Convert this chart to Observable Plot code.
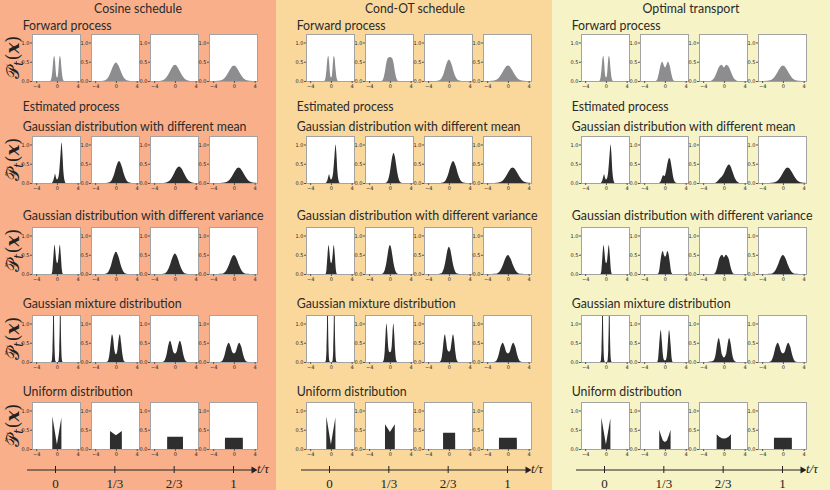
<!DOCTYPE html>
<html><head><meta charset="utf-8">
<script src="https://cdn.jsdelivr.net/npm/d3@7"></script>
<script src="https://cdn.jsdelivr.net/npm/@observablehq/plot@0.6"></script>
<style>
html,body{margin:0;padding:0;background:#fff;}
#fig{position:relative;width:830px;height:490px;overflow:hidden;}
#fig svg{position:absolute;overflow:visible;}
</style></head><body><div id="fig"></div>
<script>
// ---------------- data ----------------
const schedules = ["Cosine schedule", "Cond-OT schedule", "Optimal transport"];
const forwardTitle = "Forward process";
const estimatedTitle = "Estimated process";
const rowTitles = ["Gaussian distribution with different mean", "Gaussian distribution with different variance", "Gaussian mixture distribution", "Uniform distribution"];
const times = [0, 1/3, 2/3, 1];
const timeLabels = ["0", "1/3", "2/3", "1"];
const densityTicks = [0, 0.5, 1.0];
const xTicks = [-4, 0, 4];

// each curve: [x, density] knots
const cosForward = [
  [[-1.3,0],[-1.05,0.08],[-0.85,0.3],[-0.65,0.6],[-0.5,0.65],[-0.35,0.5],[-0.2,0.22],[-0.05,0.1],[0.1,0.1],[0.25,0.22],[0.4,0.5],[0.55,0.65],[0.7,0.6],[0.9,0.3],[1.1,0.08],[1.35,0]],
  [[-3,0],[-2.5,0.005],[-2,0.026],[-1.5,0.094],[-1,0.232],[-0.5,0.4],[0,0.48],[0.5,0.4],[1,0.232],[1.5,0.094],[2,0.026],[2.5,0.005],[3,0]],
  [[-3.5,0],[-3,0.003],[-2.5,0.013],[-2,0.046],[-1.5,0.121],[-1,0.242],[-0.5,0.366],[0,0.42],[0.5,0.366],[1,0.242],[1.5,0.121],[2,0.046],[2.5,0.013],[3,0.003],[3.5,0]],
  [[-4,0],[-3.5,0.001],[-3,0.004],[-2.5,0.018],[-2,0.054],[-1.5,0.13],[-1,0.243],[-0.5,0.353],[0,0.4],[0.5,0.353],[1,0.243],[1.5,0.13],[2,0.054],[2.5,0.018],[3,0.004],[3.5,0.001],[4,0]]
];
const cosMean = [
  [[-1,0],[-0.75,0.05],[-0.5,0.17],[-0.35,0.24],[-0.2,0.15],[0,0.09],[0.2,0.12],[0.45,0.3],[0.7,0.75],[0.9,1.05],[1.05,0.8],[1.25,0.3],[1.45,0.08],[1.7,0]],
  [[-1.9,0],[-1.4,0.01],[-0.9,0.057],[-0.4,0.205],[0.1,0.442],[0.6,0.57],[1.1,0.442],[1.6,0.205],[2.1,0.057],[2.6,0.01],[3.1,0]],
  [[-2.7,0],[-2.2,0.002],[-1.7,0.012],[-1.2,0.043],[-0.7,0.117],[-0.2,0.241],[0.3,0.372],[0.8,0.43],[1.3,0.372],[1.8,0.241],[2.3,0.117],[2.8,0.043],[3.3,0.012],[3.8,0.002],[4.3,0]],
  [[-3.1,0],[-2.6,0.001],[-2.1,0.004],[-1.6,0.018],[-1.1,0.054],[-0.6,0.13],[-0.1,0.243],[0.4,0.353],[0.9,0.4],[1.4,0.353],[1.9,0.243],[2.4,0.13],[2.9,0.054],[3.4,0.018],[3.9,0.004],[4.4,0.001]]
];
const cosVariance = [
  [[-1.05,0],[-0.85,0.12],[-0.65,0.5],[-0.45,0.76],[-0.3,0.6],[-0.12,0.35],[0.05,0.28],[0.22,0.35],[0.4,0.6],[0.55,0.76],[0.75,0.5],[0.95,0.12],[1.15,0]],
  [[-2.5,0],[-2,0.009],[-1.5,0.055],[-1,0.203],[-0.5,0.446],[0,0.58],[0.5,0.446],[1,0.203],[1.5,0.055],[2,0.009],[2.5,0]],
  [[-3,0],[-2.5,0.002],[-2,0.015],[-1.5,0.072],[-1,0.218],[-0.5,0.424],[0,0.53],[0.5,0.424],[1,0.218],[1.5,0.072],[2,0.015],[2.5,0.002],[3,0]],
  [[-3,0],[-2.5,0.004],[-2,0.021],[-1.5,0.084],[-1,0.224],[-0.5,0.403],[0,0.49],[0.5,0.403],[1,0.224],[1.5,0.084],[2,0.021],[2.5,0.004],[3,0]]
];
const cosMixture = [
  [[-1.15,0],[-1.05,0.01],[-0.95,0.07],[-0.85,0.34],[-0.75,1.03],[-0.65,2.5],[-0.55,1.03],[-0.45,0.34],[-0.35,0.07],[-0.25,0.01],[-0.15,0],[0.15,0],[0.25,0.01],[0.35,0.07],[0.45,0.34],[0.55,1.03],[0.65,2.5],[0.75,1.03],[0.85,0.34],[0.95,0.07],[1.05,0.01],[1.15,0]],
  [[-1.8,0],[-1.5,0.04],[-1.25,0.2],[-1,0.5],[-0.75,0.72],[-0.55,0.62],[-0.3,0.32],[0,0.2],[0.3,0.32],[0.55,0.62],[0.75,0.72],[1,0.5],[1.25,0.2],[1.5,0.04],[1.8,0]],
  [[-2.4,0],[-2,0.04],[-1.6,0.2],[-1.25,0.45],[-0.95,0.55],[-0.65,0.45],[-0.3,0.26],[0,0.22],[0.3,0.26],[0.65,0.45],[0.95,0.55],[1.25,0.45],[1.6,0.2],[2,0.04],[2.4,0]],
  [[-2.7,0],[-2.2,0.04],[-1.8,0.18],[-1.4,0.4],[-1,0.5],[-0.65,0.4],[-0.3,0.25],[0,0.22],[0.3,0.25],[0.65,0.4],[1,0.5],[1.4,0.4],[1.8,0.18],[2.2,0.04],[2.7,0]]
];
const cosUniform = [
  [[-0.89,0],[-0.88,0.85],[0,0.12],[0.86,0.82],[0.87,0]],
  [[-1.15,0],[-1.14,0.47],[0,0.36],[1.14,0.47],[1.15,0]],
  [[-1.5,0],[-1.49,0.32],[1.55,0.32],[1.56,0]],
  [[-1.73,0],[-1.72,0.29],[1.72,0.29],[1.73,0]]
];

const condForward = [
  [[-1.3,0],[-1.05,0.08],[-0.85,0.3],[-0.65,0.6],[-0.5,0.65],[-0.35,0.5],[-0.2,0.22],[-0.05,0.1],[0.1,0.1],[0.25,0.22],[0.4,0.5],[0.55,0.65],[0.7,0.6],[0.9,0.3],[1.1,0.08],[1.35,0]],
  [[-1.6,0],[-1.3,0.05],[-1,0.22],[-0.7,0.47],[-0.4,0.6],[0,0.62],[0.4,0.6],[0.7,0.47],[1,0.22],[1.3,0.05],[1.6,0]],
  [[-2.5,0],[-2,0.01],[-1.5,0.056],[-1,0.202],[-0.5,0.434],[0,0.56],[0.5,0.434],[1,0.202],[1.5,0.056],[2,0.01],[2.5,0]],
  [[-4,0],[-3.5,0.001],[-3,0.004],[-2.5,0.018],[-2,0.054],[-1.5,0.13],[-1,0.243],[-0.5,0.353],[0,0.4],[0.5,0.353],[1,0.243],[1.5,0.13],[2,0.054],[2.5,0.018],[3,0.004],[3.5,0.001],[4,0]]
];
const condMean = [
  [[-1,0],[-0.75,0.05],[-0.5,0.17],[-0.35,0.23],[-0.2,0.15],[0,0.09],[0.2,0.12],[0.45,0.3],[0.7,0.72],[0.9,1.0],[1.05,0.78],[1.25,0.3],[1.45,0.08],[1.7,0]],
  [[-1.05,0.002],[-0.8,0.009],[-0.55,0.034],[-0.3,0.106],[-0.05,0.253],[0.2,0.473],[0.45,0.688],[0.7,0.78],[0.95,0.688],[1.2,0.473],[1.45,0.253],[1.7,0.106],[1.95,0.034],[2.2,0.009],[2.45,0.002]],
  [[-1.7,0],[-1.2,0.01],[-0.7,0.057],[-0.2,0.205],[0.3,0.442],[0.8,0.57],[1.3,0.442],[1.8,0.205],[2.3,0.057],[2.8,0.01],[3.3,0]],
  [[-3.1,0],[-2.6,0.001],[-2.1,0.004],[-1.6,0.018],[-1.1,0.054],[-0.6,0.13],[-0.1,0.243],[0.4,0.353],[0.9,0.4],[1.4,0.353],[1.9,0.243],[2.4,0.13],[2.9,0.054],[3.4,0.018],[3.9,0.004],[4.4,0.001]]
];
const condVariance = [
  [[-1.05,0],[-0.85,0.12],[-0.65,0.5],[-0.45,0.75],[-0.3,0.6],[-0.12,0.35],[0.05,0.28],[0.22,0.35],[0.4,0.6],[0.55,0.75],[0.75,0.5],[0.95,0.12],[1.15,0]],
  [[-1.75,0],[-1.5,0.008],[-1.25,0.033],[-1,0.101],[-0.75,0.244],[-0.5,0.455],[-0.25,0.662],[0,0.75],[0.25,0.662],[0.5,0.455],[0.75,0.244],[1,0.101],[1.25,0.033],[1.5,0.008],[1.75,0]],
  [[-2,0],[-1.75,0.004],[-1.5,0.017],[-1.25,0.054],[-1,0.136],[-0.75,0.28],[-0.5,0.47],[-0.25,0.64],[0,0.71],[0.25,0.64],[0.5,0.47],[0.75,0.28],[1,0.136],[1.25,0.054],[1.5,0.017],[1.75,0.004],[2,0]],
  [[-3,0],[-2.5,0.004],[-2,0.021],[-1.5,0.084],[-1,0.224],[-0.5,0.403],[0,0.49],[0.5,0.403],[1,0.224],[1.5,0.084],[2,0.021],[2.5,0.004],[3,0]]
];
const condMixture = [
  [[-1.15,0],[-1.05,0.01],[-0.95,0.07],[-0.85,0.34],[-0.75,1.03],[-0.65,2.5],[-0.55,1.03],[-0.45,0.34],[-0.35,0.07],[-0.25,0.01],[-0.15,0],[0.15,0],[0.25,0.01],[0.35,0.07],[0.45,0.34],[0.55,1.03],[0.65,2.5],[0.75,1.03],[0.85,0.34],[0.95,0.07],[1.05,0.01],[1.15,0]],
  [[-1.4,0],[-1.2,0.05],[-1,0.3],[-0.82,0.75],[-0.65,1.0],[-0.5,0.75],[-0.35,0.42],[-0.18,0.27],[0,0.25],[0.18,0.27],[0.35,0.42],[0.5,0.75],[0.65,1.0],[0.82,0.75],[1,0.3],[1.2,0.05],[1.4,0]],
  [[-1.8,0],[-1.5,0.05],[-1.25,0.25],[-1,0.58],[-0.78,0.72],[-0.55,0.55],[-0.3,0.32],[0,0.27],[0.3,0.32],[0.55,0.55],[0.78,0.72],[1,0.58],[1.25,0.25],[1.5,0.05],[1.8,0]],
  [[-2.7,0],[-2.2,0.04],[-1.8,0.18],[-1.4,0.4],[-1,0.5],[-0.65,0.4],[-0.3,0.25],[0,0.22],[0.3,0.25],[0.65,0.4],[1,0.5],[1.4,0.4],[1.8,0.18],[2.2,0.04],[2.7,0]]
];
const condUniform = [
  [[-0.89,0],[-0.88,0.85],[0,0.12],[0.86,0.82],[0.87,0]],
  [[-0.95,0],[-0.94,0.64],[0,0.44],[0.94,0.64],[0.95,0]],
  [[-1.13,0],[-1.12,0.42],[1.2,0.42],[1.21,0]],
  [[-1.73,0],[-1.72,0.29],[1.72,0.29],[1.73,0]]
];

const otForward = [
  [[-1.3,0],[-1.05,0.08],[-0.85,0.3],[-0.65,0.6],[-0.5,0.65],[-0.35,0.5],[-0.2,0.22],[-0.05,0.1],[0.1,0.1],[0.25,0.22],[0.4,0.5],[0.55,0.65],[0.7,0.6],[0.9,0.3],[1.1,0.08],[1.35,0]],
  [[-1.8,0],[-1.5,0.04],[-1.2,0.18],[-0.9,0.38],[-0.5,0.5],[-0.2,0.4],[0.05,0.35],[0.3,0.42],[0.55,0.5],[0.95,0.38],[1.25,0.18],[1.55,0.04],[1.85,0]],
  [[-2.6,0],[-2.2,0.03],[-1.8,0.1],[-1.4,0.22],[-1,0.35],[-0.45,0.42],[0,0.35],[0.45,0.42],[1,0.35],[1.4,0.22],[1.8,0.1],[2.2,0.03],[2.6,0]],
  [[-4,0],[-3.5,0.001],[-3,0.004],[-2.5,0.018],[-2,0.054],[-1.5,0.13],[-1,0.243],[-0.5,0.353],[0,0.4],[0.5,0.353],[1,0.243],[1.5,0.13],[2,0.054],[2.5,0.018],[3,0.004],[3.5,0.001],[4,0]]
];
const otMean = [
  [[-1,0],[-0.75,0.05],[-0.5,0.17],[-0.35,0.23],[-0.2,0.15],[0,0.09],[0.2,0.12],[0.45,0.3],[0.7,0.72],[0.9,1.0],[1.05,0.78],[1.25,0.3],[1.45,0.08],[1.7,0]],
  [[-1.1,0],[-0.8,0.05],[-0.5,0.17],[-0.3,0.2],[-0.1,0.18],[0.2,0.3],[0.5,0.52],[0.8,0.65],[1,0.62],[1.3,0.4],[1.6,0.15],[2,0.02],[2.3,0]],
  [[-1.8,0],[-1.3,0.04],[-0.8,0.12],[-0.4,0.17],[0,0.25],[0.4,0.38],[0.8,0.47],[1,0.48],[1.3,0.43],[1.7,0.28],[2.1,0.13],[2.6,0.03],[3,0]],
  [[-3.1,0],[-2.6,0.001],[-2.1,0.004],[-1.6,0.018],[-1.1,0.054],[-0.6,0.13],[-0.1,0.243],[0.4,0.353],[0.9,0.4],[1.4,0.353],[1.9,0.243],[2.4,0.13],[2.9,0.054],[3.4,0.018],[3.9,0.004],[4.4,0.001]]
];
const otVariance = [
  [[-1.05,0],[-0.85,0.12],[-0.65,0.5],[-0.45,0.75],[-0.3,0.6],[-0.12,0.35],[0.05,0.28],[0.22,0.35],[0.4,0.6],[0.55,0.75],[0.75,0.5],[0.95,0.12],[1.15,0]],
  [[-1.4,0],[-1.15,0.06],[-0.9,0.3],[-0.6,0.55],[-0.4,0.6],[-0.2,0.5],[0.05,0.45],[0.25,0.5],[0.45,0.6],[0.65,0.55],[0.95,0.3],[1.2,0.06],[1.45,0]],
  [[-1.9,0],[-1.6,0.05],[-1.25,0.2],[-0.9,0.4],[-0.35,0.5],[0,0.43],[0.35,0.5],[0.9,0.4],[1.25,0.2],[1.6,0.05],[1.9,0]],
  [[-3,0],[-2.5,0.004],[-2,0.021],[-1.5,0.084],[-1,0.224],[-0.5,0.403],[0,0.49],[0.5,0.403],[1,0.224],[1.5,0.084],[2,0.021],[2.5,0.004],[3,0]]
];
const otMixture = [
  [[-1.15,0],[-1.05,0.01],[-0.95,0.07],[-0.85,0.34],[-0.75,1.03],[-0.65,2.5],[-0.55,1.03],[-0.45,0.34],[-0.35,0.07],[-0.25,0.01],[-0.15,0],[0.15,0],[0.25,0.01],[0.35,0.07],[0.45,0.34],[0.55,1.03],[0.65,2.5],[0.75,1.03],[0.85,0.34],[0.95,0.07],[1.05,0.01],[1.15,0]],
  [[-1.5,0],[-1.3,0.1],[-1.1,0.45],[-0.8,0.83],[-0.6,0.55],[-0.4,0.2],[-0.2,0.06],[0,0.04],[0.2,0.06],[0.4,0.2],[0.6,0.55],[0.8,0.83],[1.1,0.45],[1.3,0.1],[1.5,0]],
  [[-3.2,0],[-2.6,0.01],[-2,0.04],[-1.6,0.2],[-1.3,0.48],[-1,0.62],[-0.7,0.45],[-0.4,0.2],[0,0.12],[0.4,0.2],[0.7,0.45],[1,0.62],[1.3,0.48],[1.6,0.2],[2,0.03],[2.4,0]],
  [[-2.7,0],[-2.2,0.04],[-1.8,0.18],[-1.4,0.4],[-1,0.5],[-0.65,0.4],[-0.3,0.25],[0,0.22],[0.3,0.25],[0.65,0.4],[1,0.5],[1.4,0.4],[1.8,0.18],[2.2,0.04],[2.7,0]]
];
const otUniform = [
  [[-0.89,0],[-0.88,0.82],[0,0.12],[0.86,0.8],[0.87,0]],
  [[-1.1,0],[-1.09,0.5],[-0.75,0.35],[-0.4,0.22],[0,0.18],[0.4,0.22],[0.75,0.35],[1.09,0.5],[1.1,0]],
  [[-1.4,0],[-1.39,0.38],[-0.9,0.32],[-0.4,0.28],[0,0.27],[0.4,0.28],[0.9,0.32],[1.35,0.38],[1.36,0]],
  [[-1.73,0],[-1.72,0.29],[1.72,0.29],[1.73,0]]
];

const columns = [
  [cosForward, cosMean, cosVariance, cosMixture, cosUniform],
  [condForward, condMean, condVariance, condMixture, condUniform],
  [otForward, otMean, otVariance, otMixture, otUniform]
];
const rowKinds = ["forward", "estimated", "estimated", "estimated", "uniform"];

// ---------------- layout & style ----------------
const L = {
  colX: [0, 274, 549],
  colEdges: [0, 276, 552, 830],
  colBg: ["#F9B08A", "#FAD89C", "#F6F3C6"],
  titleCx: [138, 141, 142], titleW: [88, 100, 97], titleY: 13,
  textX: 22.7,
  forwardY: 29.5, forwardW: 89,
  estimatedY: 111, estimatedW: 97,
  rowTitleY: [131, 219.5, 308, 395.5], rowTitleW: [224, 241, 159, 110],
  boxTop: [34, 136, 227, 315, 402],
  boxLeft: 31.7, boxStep: 59, boxW: 48, boxH: 47,
  xDomain: [-4.8, 4.45], yDomain: [0, 1.22],
  axisTop: 455, axisLeft: 27, axisRight: 253, tick0: 55, tick1: 233
};
const sansFont = "Lato, 'Open Sans', sans-serif";
const textColor = "#2a2a2a";

const fig = document.getElementById("fig");

// background + text layer
const svg = d3.select(fig).append("svg").attr("width", 830).attr("height", 490).style("left", "0px").style("top", "0px");
schedules.forEach((s, c) => {
  svg.append("rect").attr("x", L.colEdges[c]).attr("y", 0)
    .attr("width", L.colEdges[c + 1] - L.colEdges[c]).attr("height", 490).attr("fill", L.colBg[c]);
});
// text squeezed horizontally to the measured width of the reference
function label(x, y, str, w, centered) {
  const g = svg.append("g");
  const t = g.append("text").attr("x", 0).attr("y", 0)
    .attr("font-family", sansFont).attr("font-size", 13.5).attr("fill", textColor).text(str);
  const nat = t.node().getComputedTextLength();
  const s = Math.min(1, w / nat);
  const x0 = centered ? x - w / 2 : x;
  g.attr("transform", `translate(${x0},${y}) scale(${s},1)`);
}
schedules.forEach((s, c) => {
  const ox = L.colX[c];
  label(ox + L.titleCx[c], L.titleY, s, L.titleW[c], true);
  label(ox + L.textX, L.forwardY, forwardTitle, L.forwardW);
  label(ox + L.textX, L.estimatedY, estimatedTitle, L.estimatedW);
  rowTitles.forEach((t, r) => label(ox + L.textX, L.rowTitleY[r], t, L.rowTitleW[r]));
  svg.append("text").attr("x", ox + 257).attr("y", 473)
    .attr("font-family", "'Liberation Serif', 'DejaVu Serif', serif").attr("font-size", 13)
    .attr("font-style", "italic").attr("fill", "#222").text("t/τ");
});
// y labels (math)
L.boxTop.forEach((top, r) => {
  const cy = top + L.boxH / 2;
  const g = svg.append("g").attr("transform", `translate(19,${cy}) rotate(-90)`);
  const t = g.append("text").attr("x", 0).attr("y", 0)
    .attr("font-family", "'DejaVu Serif', serif").attr("font-size", 18).attr("fill", "#222");
  const P = t.append("tspan").text("𝒫");
  t.append("tspan").attr("font-size", 12).attr("font-style", "italic").attr("dy", 4).text("t");
  t.append("tspan").attr("dy", -4).attr("dx", 0.5).text("(");
  t.append("tspan").attr("font-style", "italic").attr("font-weight", "bold").text("x");
  t.append("tspan").text(")");
  const len = t.node().getComputedTextLength();
  t.attr("x", -len / 2);
  if (r > 0) {
    const pw = P.node().getComputedTextLength();
    g.append("text").attr("x", -len / 2 + pw * 0.55).attr("y", -5.5).attr("text-anchor", "middle")
      .attr("font-family", "'DejaVu Serif', serif").attr("font-size", 11).attr("fill", "#222").text("\u02DC");
  }
});

// ---------------- density panels ----------------
const minus = d => d < 0 ? "\u2212" + (-d) : String(d);
function panel(knots, kind, left, top) {
  const data = knots.map(([x, y]) => ({x, y}));
  const mL = 14, mR = 3, mT = 2, mB = 9;
  const p = Plot.plot({
    width: L.boxW + mL + mR, height: L.boxH + mT + mB,
    marginLeft: mL, marginRight: mR, marginTop: mT, marginBottom: mB,
    style: {background: "transparent", fontFamily: "'DejaVu Sans', sans-serif", fontSize: "5px", color: "#222", overflow: "visible"},
    x: {domain: L.xDomain},
    y: {domain: L.yDomain},
    marks: [
      Plot.frame({fill: "white", stroke: "none"}),
      Plot.areaY(data, {x: "x", y: "y", fill: kind === "forward" ? "#8d8d8f" : "#2e2e2e",
        curve: kind === "uniform" ? "linear" : "monotone-x", clip: true}),
      Plot.frame({stroke: "#a3a3a3", strokeWidth: 1}),
      Plot.axisX({ticks: xTicks, tickSize: 2, tickPadding: 1, tickFormat: minus, fontSize: 5, label: null, stroke: "#555"}),
      Plot.axisY({ticks: densityTicks, tickSize: 2, tickPadding: 1, tickFormat: d => d.toFixed(1), fontSize: 5, label: null, stroke: "#555"})
    ]
  });
  p.style.left = (left - mL) + "px";
  p.style.top = (top - mT) + "px";
  fig.appendChild(p);
}
columns.forEach((rows, c) => {
  rows.forEach((curves, r) => {
    curves.forEach((knots, i) => {
      panel(knots, rowKinds[r], L.colX[c] + L.boxLeft + i * L.boxStep, L.boxTop[r]);
    });
  });
});

// ---------------- time axis ----------------
const tickLabel = d => timeLabels[times.findIndex(t => Math.abs(t - d) < 1e-9)];
L.colX.forEach(ox => {
  const h = 490 - L.axisTop;
  const p = Plot.plot({
    width: 274, height: h,
    marginLeft: L.axisLeft, marginRight: 274 - L.axisRight, marginTop: 11, marginBottom: h - 18,
    x: {domain: [0, 1], range: [L.tick0, L.tick1]},
    y: {domain: [-1, 1], axis: null},
    style: {background: "transparent", overflow: "visible"},
    marks: [
      Plot.ruleY([0], {stroke: "#222", strokeWidth: 1}),
      Plot.dot([0], {y: d => d, frameAnchor: "right", symbol: "triangle", rotate: 90, r: 2.6, fill: "#222", stroke: "none"}),
      Plot.tickX(times, {x: d => d, stroke: "#222"}),
      Plot.axisX({ticks: times, tickFormat: tickLabel, tickSize: 0, tickPadding: 5, fontSize: 13,
        fontFamily: "'Liberation Serif', 'DejaVu Serif', serif", label: null, fill: "#222"})
    ]
  });
  p.style.left = ox + "px";
  p.style.top = L.axisTop + "px";
  fig.appendChild(p);
});
</script></body></html>
